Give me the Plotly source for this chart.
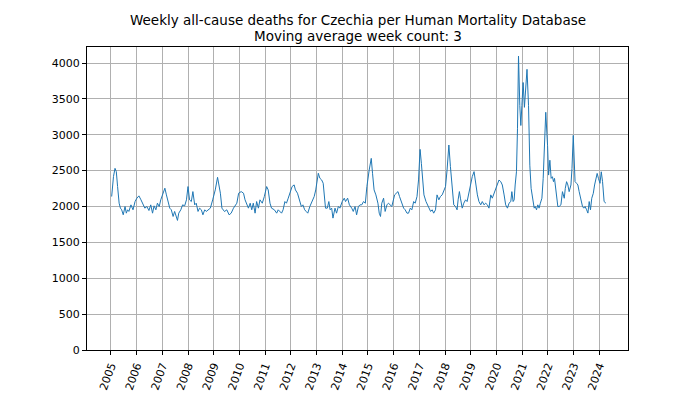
import plotly.graph_objects as go

# Decimal-year positions
week_pos = [
    2005.03, 2005.10, 2005.16, 2005.21, 2005.26, 2005.32, 2005.37, 2005.42, 2005.48, 2005.55,
    2005.60, 2005.65, 2005.70, 2005.78, 2005.86, 2005.94,
    2006.01, 2006.09, 2006.17, 2006.25, 2006.32, 2006.40, 2006.48, 2006.55, 2006.62, 2006.68,
    2006.75, 2006.81, 2006.88, 2006.94,
    2007.02, 2007.10, 2007.16, 2007.23, 2007.29, 2007.35, 2007.42, 2007.48, 2007.54, 2007.59,
    2007.64, 2007.72, 2007.79, 2007.87, 2007.94,
    2008.00, 2008.06, 2008.13, 2008.19, 2008.26, 2008.32, 2008.39, 2008.45, 2008.52, 2008.58,
    2008.65, 2008.71, 2008.80, 2008.87, 2008.96,
    2009.06, 2009.15, 2009.26, 2009.32, 2009.42, 2009.51, 2009.60, 2009.68, 2009.77, 2009.90,
    2009.97,
    2010.07, 2010.16, 2010.22, 2010.29, 2010.35, 2010.42, 2010.48, 2010.54, 2010.61, 2010.67,
    2010.74, 2010.80, 2010.89, 2010.97,
    2011.06, 2011.12, 2011.19, 2011.25, 2011.36, 2011.45, 2011.51, 2011.64, 2011.70, 2011.77,
    2011.83, 2011.90,
    2012.05, 2012.13, 2012.18, 2012.26, 2012.35, 2012.41, 2012.47, 2012.54, 2012.60, 2012.66,
    2012.74, 2012.83, 2012.91, 2012.97,
    2013.07, 2013.13, 2013.20, 2013.26, 2013.33, 2013.35, 2013.42, 2013.48, 2013.53, 2013.59,
    2013.64, 2013.72, 2013.78, 2013.85, 2013.91,
    2014.00, 2014.08, 2014.13, 2014.21, 2014.28, 2014.37, 2014.43, 2014.50, 2014.56, 2014.63,
    2014.69, 2014.76, 2014.83, 2014.90, 2014.96,
    2015.05, 2015.13, 2015.18, 2015.24, 2015.31, 2015.39, 2015.44, 2015.49, 2015.54, 2015.61,
    2015.67, 2015.74, 2015.80, 2015.87, 2015.93,
    2016.04, 2016.10, 2016.17, 2016.23, 2016.30, 2016.39, 2016.45, 2016.52, 2016.58, 2016.65,
    2016.71, 2016.78, 2016.84, 2016.91, 2016.97,
    2017.03, 2017.08, 2017.13, 2017.18, 2017.26, 2017.34, 2017.39, 2017.44, 2017.50, 2017.56,
    2017.63, 2017.69, 2017.76, 2017.82, 2017.89, 2017.95,
    2018.02, 2018.08, 2018.15, 2018.21, 2018.28, 2018.34, 2018.41, 2018.47, 2018.51, 2018.56,
    2018.60, 2018.67, 2018.73, 2018.80, 2018.86, 2018.93, 2018.99,
    2019.06, 2019.13, 2019.19, 2019.26, 2019.32, 2019.39, 2019.45, 2019.52, 2019.58, 2019.65,
    2019.71, 2019.78, 2019.84, 2019.91, 2019.97,
    2020.04, 2020.10, 2020.17, 2020.23, 2020.30, 2020.36, 2020.43, 2020.49, 2020.56, 2020.60,
    2020.65, 2020.69, 2020.73, 2020.78, 2020.82, 2020.86, 2020.91, 2020.95,
    2020.99, 2021.04, 2021.09, 2021.14, 2021.19, 2021.25, 2021.30, 2021.35, 2021.40, 2021.47,
    2021.51, 2021.56, 2021.61, 2021.66, 2021.71, 2021.77, 2021.82, 2021.87, 2021.92,
    2021.99, 2022.03, 2022.08, 2022.13, 2022.18, 2022.22, 2022.26, 2022.31, 2022.35, 2022.39,
    2022.44, 2022.51, 2022.57, 2022.64, 2022.68, 2022.73, 2022.78, 2022.83, 2022.90, 2022.94,
    2022.99,
    2023.03, 2023.06, 2023.12, 2023.17, 2023.22, 2023.29, 2023.35, 2023.40, 2023.45, 2023.51,
    2023.56, 2023.61, 2023.66, 2023.71, 2023.77, 2023.82, 2023.87, 2023.92, 2023.97,
    2024.03, 2024.08, 2024.13, 2024.19, 2024.26,
]

# Weekly deaths, 3-week moving average
deaths = [
    2139, 2417, 2532, 2486, 2278, 2046, 1977, 1954, 1884, 2000,
    1907, 1954, 1931, 2023, 1954, 2069,
    2116, 2148, 2093, 2023, 1977, 2000, 1944, 2023, 1907, 2009,
    1954, 2046, 2000, 2093,
    2162, 2255, 2162, 2046, 1977, 1954, 1861, 1931, 1838, 1806,
    1907, 1954, 2023, 2009, 2093,
    2278, 2093, 2069, 2208, 2023, 2046, 1931, 1977, 1954, 1884,
    1954, 1931, 1954, 1977, 2093,
    2231, 2407, 2185, 1977, 1930, 1954, 1884, 1907, 1977, 2046,
    2185,
    2208, 2185, 2093, 2023, 1977, 2046, 1954, 2046, 1907, 2069,
    1977, 2093, 2046, 2139,
    2278, 2231, 2046, 1977, 1954, 1907, 1954, 1907, 1954, 2069,
    2046, 2116,
    2278, 2301, 2231, 2185, 2093, 2000, 2023, 1954, 1930, 1907,
    2000, 2069, 2139, 2231,
    2463, 2394, 2370, 2324, 2093, 1977, 1977, 2069, 1954, 1977,
    1838, 1977, 1907, 2000, 1977,
    2069, 2116, 2069, 2116, 2023, 1977, 1931, 2000, 1884, 2000,
    2023, 2023, 2069, 2046, 2278,
    2509, 2671, 2463, 2231, 2162, 2046, 1907, 1861, 2046, 2116,
    1931, 2023, 2046, 2023, 2000,
    2162, 2185, 2208, 2139, 2069, 1977, 1954, 1907, 1907, 1977,
    1954, 2069, 2046, 2139, 2370,
    2796, 2602, 2370, 2162, 2069, 2000, 1977, 1931, 1954, 1907,
    1954, 2162, 2093, 2139, 2162, 2208,
    2278, 2509, 2857, 2556, 2231, 2023, 2000, 1954, 2093, 2208,
    2116, 1977, 2046, 2093, 2069, 2208, 2324,
    2417, 2486, 2324, 2162, 2069, 2023, 2069, 2023, 2046, 2023,
    1977, 2162, 2116, 2185, 2255,
    2300, 2369, 2346, 2300, 2161, 2023, 1977, 2046, 2069, 2207,
    2069, 2092, 2300, 2484, 3083, 4097, 3405, 3129,
    3405, 3728, 3382, 3682, 3912, 3405, 2576, 2253, 2115, 1977,
    2000, 1954, 2023, 1977, 2046, 2115, 2392, 2852, 3313,
    2852, 2438, 2645, 2392, 2415, 2346, 2392, 2253, 2115, 2000,
    2000, 2023, 2207, 2115, 2253, 2346, 2300, 2207, 2300, 2530,
    2991,
    2714, 2346, 2323, 2300, 2207, 2115, 2000, 1977, 2000, 1954,
    1908, 2069, 1954, 2115, 2184, 2300, 2392, 2461, 2392,
    2323, 2484, 2346, 2069, 2046,
]

year_ticks = list(range(2005, 2025))
y_ticks = [0, 500, 1000, 1500, 2000, 2500, 3000, 3500, 4000]

title_lines = ["Weekly all-cause deaths for Czechia per Human Mortality Database",
               "Moving average week count: 3"]

fig = go.Figure(go.Scatter(
    x=week_pos, y=deaths, mode="lines",
    line=dict(color="#1f77b4", width=1),
    showlegend=False,
))

# The page body has an 8 px default margin, so the figure is drawn 8 px
# smaller and its margins are reduced by 8 px to land on the reference grid.
font_family = "DejaVu Sans"
fig.update_layout(
    width=692, height=386,
    margin=dict(l=79, r=72, t=39, b=44, autoexpand=False),
    paper_bgcolor="white", plot_bgcolor="white",
    font=dict(family=font_family, color="black", size=11),
)
for line_text, shift in zip(title_lines, [27, 11]):
    fig.add_annotation(
        text=line_text, xref="paper", yref="paper", x=0.5, y=1.0,
        xanchor="center", yanchor="middle", yshift=shift, showarrow=False,
        font=dict(family=font_family, size=13.5, color="black"),
    )
fig.update_xaxes(
    range=[2004.07, 2025.12], automargin=False,
    tickmode="array", tickvals=year_ticks, ticktext=[str(y) for y in year_ticks],
    tickangle=-70,
    ticks="outside", ticklen=4, tickcolor="black",
    showgrid=True, gridcolor="#b0b0b0", gridwidth=1,
    showline=True, linecolor="black", linewidth=1, mirror=True,
    zeroline=False,
)
fig.update_yaxes(
    range=[0, 4223], automargin=False,
    tickmode="array", tickvals=y_ticks,
    ticks="outside", ticklen=4, tickcolor="black",
    showgrid=True, gridcolor="#b0b0b0", gridwidth=1,
    showline=True, linecolor="black", linewidth=1, mirror=True,
    zeroline=False,
)

fig.write_html("out.html")
